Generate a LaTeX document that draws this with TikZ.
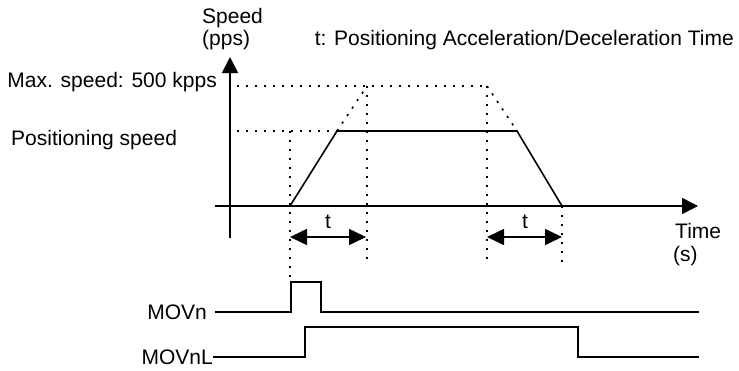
\documentclass[tikz,border=0pt]{standalone}
\usepackage{fontspec}
\setmainfont{Liberation Sans}
\usetikzlibrary{arrows.meta}
\begin{document}
\begin{tikzpicture}[x=1pt,y=-1pt,
  lbl/.style={inner sep=0pt, font=\fontsize{21}{24}\selectfont},
  sline/.style={line width=1.6pt},
  dline/.style={line width=1.6pt, dash pattern=on 2.2pt off 6.8pt},
  axarrow/.style={sline,-{Triangle[length=16pt,width=16pt]}},
  dblarrow/.style={sline,{Triangle[length=17pt,width=16pt]}-{Triangle[length=17pt,width=16pt]}},
]
\useasboundingbox (0,0) rectangle (739,370);
% coordinates
\coordinate (ytop) at (230,57);
\coordinate (ybot) at (230,238);
\coordinate (xl) at (215,206);
\coordinate (xr) at (698,206);
\coordinate (p0) at (290,206);
\coordinate (p1) at (337,131);
\coordinate (p2) at (517,131);
\coordinate (p3) at (562,206);
\coordinate (m1) at (367,86);
\coordinate (m2) at (487,86);
\coordinate (maxl) at (237,86);
\coordinate (posl) at (237,131);
\coordinate (v1a) at (290,131);
\coordinate (v1b) at (290,282);
\coordinate (v2b) at (367,260);
\coordinate (v3b) at (487,260);
\coordinate (v4b) at (562,268);
\coordinate (t1a) at (290,237);
\coordinate (t1b) at (366,237);
\coordinate (t2a) at (487,237);
\coordinate (t2b) at (562,237);
% axes
\draw[axarrow] (ybot) -- (ytop);
\draw[axarrow] (xl) -- (xr);
% dotted guides
\draw[dline] (maxl) -- (m2);
\draw[dline] (posl) -- (p1);
\draw[dline] (p1) -- (m1);
\draw[dline] (m2) -- (p2);
\draw[dline] (v1a) -- (v1b);
\draw[dline] (m1) -- (v2b);
\draw[dline] (m2) -- (v3b);
\draw[dline] (p3) -- (v4b);
% speed profile
\draw[sline] (p0) -- (p1) -- (p2) -- (p3);
% time arrows
\draw[dblarrow] (t1a) -- (t1b);
\draw[dblarrow] (t2a) -- (t2b);
% labels
\node[lbl, anchor=base west] (speed) at (202,23) {Speed};
\node[lbl, anchor=base west] (pps) at (202,45) {(pps)};
\node[lbl, anchor=base east] (legend) at (734,45) {t: Positioning Acceleration/Deceleration Time};
\node[lbl, anchor=base east] (maxs) at (217,87) {Max. speed: 500 kpps};
\node[lbl, anchor=base west] (poss) at (11,145) {Positioning speed};
\node[lbl, anchor=base] (tl1) at (328,228) {t};
\node[lbl, anchor=base] (tl2) at (525,228) {t};
\node[lbl, anchor=base west] (time) at (675,238) {Time};
\node[lbl, anchor=base west] (secs) at (673,261) {(s)};
\node[lbl, anchor=base east] (movn) at (207,319) {MOVn};
\node[lbl, anchor=base east] (movnl) at (213,364) {MOVnL};
% signals
\coordinate (a0) at (215,312);
\coordinate (a1) at (291,312);
\coordinate (a2) at (291,282);
\coordinate (a3) at (321,282);
\coordinate (a4) at (321,312);
\coordinate (a5) at (699,312);
\draw[sline] (a0) -- (a1) -- (a2) -- (a3) -- (a4) -- (a5);
\coordinate (b0) at (213,357);
\coordinate (b1) at (305,357);
\coordinate (b2) at (305,327);
\coordinate (b3) at (578,327);
\coordinate (b4) at (578,357);
\coordinate (b5) at (699,357);
\draw[sline] (b0) -- (b1) -- (b2) -- (b3) -- (b4) -- (b5);
\end{tikzpicture}
\end{document}
